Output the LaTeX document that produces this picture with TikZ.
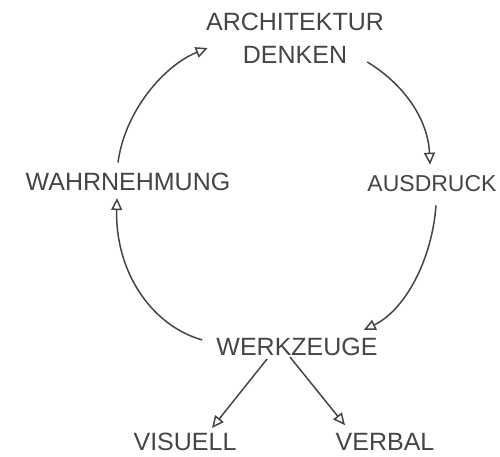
\documentclass[tikz,border=0pt]{standalone}
\usepackage{fontspec}
\setmainfont{Liberation Sans}
\usetikzlibrary{arrows.meta}
\definecolor{pencil}{HTML}{454545}
\tikzset{
  lbl/.style={inner sep=0pt, text=pencil, font=\fontsize{25}{29}\selectfont},
  arr/.style={draw=pencil, line width=1.5pt, -{Triangle[open, length=12pt, width=11pt]}}
}
\begin{document}
\begin{tikzpicture}[x=1pt,y=1pt]
\useasboundingbox (0,0) rectangle (500,456);
\node[lbl] (arch) at (295,434) {ARCHITEKTUR};
\node[lbl] (denken) at (295,401) {DENKEN};
\node[lbl] (wahr) at (128,274) {WAHRNEHMUNG};
\node[lbl, font=\fontsize{23}{27}\selectfont] (ausdruck) at (432,272) {AUSDRUCK};
\node[lbl] (werk) at (297,109) {WERKZEUGE};
\node[lbl] (visuell) at (185,14) {VISUELL};
\node[lbl] (verbal) at (385,14) {VERBAL};
\draw[arr] ([shift={(-10,10.4)}]wahr.north) .. controls (125,346) and (165,391) .. ([shift={(-35,7)}]denken.west);
\draw[arr] ([shift={(20,-7)}]denken.east) .. controls (405,371) and (428,336) .. ([shift={(-2,11)}]ausdruck.north);
\draw[arr] ([shift={(4,-13)}]ausdruck.south) .. controls (432,196) and (405,146) .. ([shift={(-14,17)}]werk.east);
\draw[arr] ([shift={(-14,7)}]werk.west) .. controls (150,131) and (115,186) .. ([shift={(-11,-7)}]wahr.south);
\draw[arr] ([shift={(-30,-3)}]werk.south) -- ([shift={(27,5)}]visuell.north);
\draw[arr] ([shift={(-7,-1)}]werk.south) -- ([shift={(-40,8)}]verbal.north);
\end{tikzpicture}
\end{document}
